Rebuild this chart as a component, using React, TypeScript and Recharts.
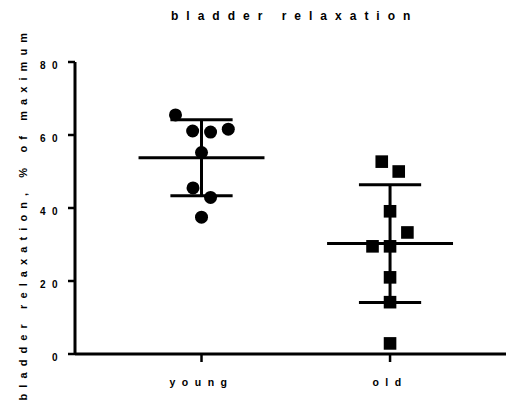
import { ComposedChart, Scatter, XAxis, YAxis, ReferenceLine } from 'recharts';

const categories = ['young', 'old'];
const categoryPositions = [1, 2];
const youngValues = [65.5, 61.1, 60.8, 61.6, 55.2, 45.5, 42.9, 37.5];
const youngJitter = [-0.138, -0.047, 0.048, 0.142, 0, -0.045, 0.048, 0];
const oldValues = [52.7, 50.0, 39.1, 33.3, 29.5, 29.5, 21.0, 14.2, 2.9];
const oldJitter = [-0.044, 0.046, 0, 0.092, -0.093, 0, 0, 0, 0];
const yTicks = [0, 20, 40, 60, 80];

const FONT = '"Liberation Sans", Arial, sans-serif';
const MEAN_HALF = 0.334;
const CAP_HALF = 0.165;

const mean = (a: number[]) => a.reduce((s, v) => s + v, 0) / a.length;
const sd = (a: number[]) => {
  const m = mean(a);
  return Math.sqrt(a.reduce((s, v) => s + (v - m) * (v - m), 0) / (a.length - 1));
};

const youngPoints = youngValues.map((y, i) => ({ x: categoryPositions[0] + youngJitter[i], y }));
const oldPoints = oldValues.map((y, i) => ({ x: categoryPositions[1] + oldJitter[i], y }));

const groups = [
  { pos: categoryPositions[0], m: mean(youngValues), s: sd(youngValues) },
  { pos: categoryPositions[1], m: mean(oldValues), s: sd(oldValues) },
];

// label sits left of the tick line, trailing letter spacing included
const YTick = ({ y, payload }: any) => (
  <text x={64} y={y + 7} textAnchor="end" fill="#000" fontSize={10} fontWeight="bold"
    fontFamily={FONT} style={{ letterSpacing: 6.5 }}>
    {payload.value}
  </text>
);

const XTick = ({ x, payload }: any) => (
  <text x={x} y={386} textAnchor="middle" fill="#000" fontSize={10.5} fontWeight="bold"
    fontFamily={FONT} style={{ letterSpacing: 6.5 }}>
    {categories[categoryPositions.indexOf(payload.value)]}
  </text>
);

const Circle = ({ cx, cy }: any) => <circle cx={cx} cy={cy} r={6.5} fill="#000" />;
const Square = ({ cx, cy }: any) => <rect x={cx - 6.3} y={cy - 6.3} width={12.6} height={12.6} fill="#000" />;

export default function App() {
  const lines: any[] = [];
  groups.forEach((g, i) => {
    lines.push(
      <ReferenceLine key={`m${i}`} segment={[{ x: g.pos - MEAN_HALF, y: g.m }, { x: g.pos + MEAN_HALF, y: g.m }]}
        stroke="#000" strokeWidth={3} />,
      <ReferenceLine key={`v${i}`} segment={[{ x: g.pos, y: g.m - g.s }, { x: g.pos, y: g.m + g.s }]}
        stroke="#000" strokeWidth={3} />,
      <ReferenceLine key={`t${i}`} segment={[{ x: g.pos - CAP_HALF, y: g.m + g.s }, { x: g.pos + CAP_HALF, y: g.m + g.s }]}
        stroke="#000" strokeWidth={3} />,
      <ReferenceLine key={`b${i}`} segment={[{ x: g.pos - CAP_HALF, y: g.m - g.s }, { x: g.pos + CAP_HALF, y: g.m - g.s }]}
        stroke="#000" strokeWidth={3} />
    );
  });

  return (
    <div style={{ position: 'absolute', left: 0, top: 0, width: 506, height: 404, background: '#fff' }}>
      <div style={{ position: 'absolute', left: 171, top: 7, fontFamily: FONT, fontWeight: 'bold', fontSize: 12,
        letterSpacing: 8, lineHeight: '18px', color: '#000', whiteSpace: 'nowrap' }}>
        bladder relaxation
      </div>
      <svg width={40} height={404} style={{ position: 'absolute', left: 0, top: 0 }}>
        <text x={26.7} y={400.5} transform="rotate(-90, 26.7, 400.5)" fontFamily={FONT} fontWeight="bold"
          fontSize={11} fill="#000" style={{ letterSpacing: 6.1 }}>
          bladder relaxation, % of maximum
        </text>
      </svg>
      <div style={{ position: 'absolute', left: 0, top: 0 }}>
        <ComposedChart width={506} height={404} margin={{ top: 62, right: 0, bottom: 0, left: 0 }}>
          <XAxis type="number" dataKey="x" domain={[0.329, 2.615]} ticks={categoryPositions} allowDataOverflow
            height={50} tickSize={8} axisLine={{ stroke: '#000', strokeWidth: 3 }}
            tickLine={{ stroke: '#000', strokeWidth: 2.5 }} tick={<XTick />} />
          <YAxis type="number" dataKey="y" domain={[0, 80]} ticks={yTicks} width={75} tickSize={7}
            axisLine={{ stroke: '#000', strokeWidth: 3 }} tickLine={{ stroke: '#000', strokeWidth: 2.5 }}
            tick={<YTick />} />
          {lines}
          <Scatter data={youngPoints} shape={<Circle />} isAnimationActive={false} />
          <Scatter data={oldPoints} shape={<Square />} isAnimationActive={false} />
        </ComposedChart>
      </div>
    </div>
  );
}
